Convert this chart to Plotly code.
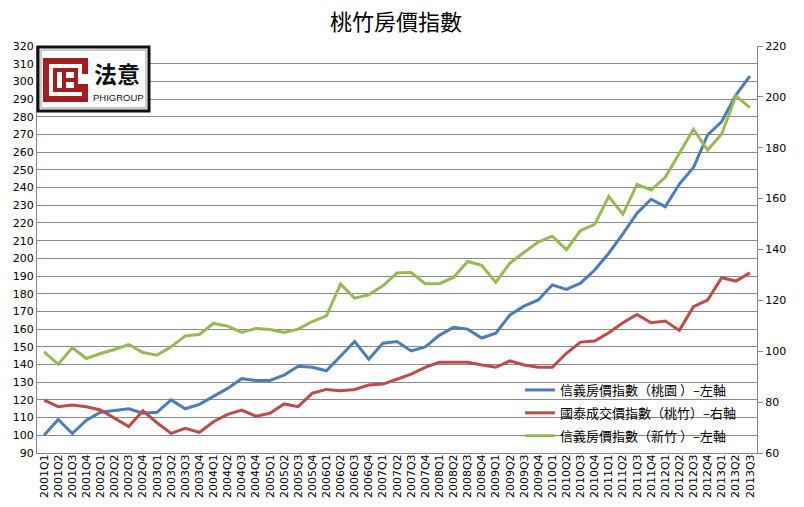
import plotly.graph_objects as go

quarters = [f"{y}Q{q}" for y in range(2001, 2014) for q in range(1, 5)][:51]

taoyuan_sinyi = [100, 109, 101, 108.5, 113, 114, 115, 112.5, 113, 120, 115, 117.5, 122, 126.5, 132, 131, 131, 134, 139, 138.5,
                 136.5, 145, 153, 143, 152, 153, 147.7, 150, 156.5, 161, 160, 155, 157.7, 168, 173, 176.5, 185, 182.5,
                 186, 193.4, 202.9, 213.8, 225.5, 233.4, 229.2, 242, 251.3, 269.7, 277.3, 292.3, 303]
cathay_taozhu = [80.8, 78.2, 78.9, 78.2, 76.9, 73.6, 70.4, 76.6, 71.9, 67.7, 69.7, 68.1, 72.3, 75.2, 76.9, 74.5, 75.6, 79.3,
                 78.2, 83.5, 85.0, 84.5, 85.0, 86.7, 87.1, 89.0, 91.0, 93.7, 95.7, 95.7, 95.7, 94.6, 93.7, 96.2, 94.6, 93.7, 93.7, 99.2,
                 103.6, 104, 107.3, 111.2, 114.5, 111.2, 111.9, 108.2, 117.5, 120.1, 128.9, 127.6, 130.8]
hsinchu_sinyi = [147.2, 140.2, 149.4, 143.4, 146.2, 148.5, 151.3, 146.8, 145.3, 150, 156.2, 157, 163.2, 161.7, 158.1, 160.4, 159.8, 158.1,
                 160, 164.3, 167.5, 185.4, 177.5, 179.4, 184.5, 191.7, 192, 185.7, 185.7, 189.2, 198.2, 196, 186.4, 197.4, 203.4, 209.2, 212.5, 204.9,
                 215.7, 219.2, 234.9, 224.9, 241.8, 238.6, 245.8, 259.7, 272.9, 261.2, 270.3, 291.8, 285.2]

title_text = "桃竹房價指數"
names = ["信義房價指數（桃園 ）–左軸", "國泰成交價指數（桃竹）–右軸", "信義房價指數（新竹 ）–左軸"]
colors = ["#4A7EBB", "#BE4B48", "#98B954"]

W, H = 804, 507
L, R, T, B = 37, 757, 46, 453

def px(x):
    return (x - L) / (R - L)

def py(y):
    return (B - y) / (B - T)

fig = go.Figure()
fig.add_trace(go.Scatter(x=quarters, y=taoyuan_sinyi, name=names[0], mode="lines",
                         line=dict(color=colors[0], width=3), legendgroup="a"))
fig.add_trace(go.Scatter(x=quarters, y=cathay_taozhu, name=names[1], mode="lines", yaxis="y2",
                         line=dict(color=colors[1], width=3), legendgroup="b"))
fig.add_trace(go.Scatter(x=quarters, y=hsinchu_sinyi, name=names[2], mode="lines",
                         line=dict(color=colors[2], width=3), legendgroup="c"))

tickfont = dict(family="DejaVu Sans", size=11, color="#000000")

shapes = []
# logo box
shapes.append(dict(type="rect", xref="paper", yref="paper", x0=px(38), x1=px(149), y0=py(111), y1=py(47),
                   line=dict(color="#111111", width=3), fillcolor="white", layer="above"))
shapes.append(dict(type="rect", xref="paper", yref="paper", x0=px(41), x1=px(146), y0=py(108), y1=py(50),
                   line=dict(color="#9a9a9a", width=1), fillcolor="white", layer="above"))
red = "#A21C20"
def rect(x0, y0, x1, y1, c):
    shapes.append(dict(type="rect", xref="paper", yref="paper", x0=px(x0), x1=px(x1), y0=py(y1), y1=py(y0),
                       line=dict(width=0), fillcolor=c, layer="above"))
rect(43, 58, 88, 102, red)
rect(49, 64, 82, 96, "white")
rect(82, 74, 88, 84, "white")
rect(53, 68, 78, 92, red)
rect(78, 84, 88, 92, red)
rect(57, 72, 62, 88, "white")
rect(66, 72, 74, 78, "white")
rect(66, 82, 74, 88, "white")

annotations = [
    dict(text=title_text, xref="paper", yref="paper", x=px(396), y=py(2), xanchor="center", yanchor="top",
         showarrow=False, font=dict(family="Noto Sans CJK TC", size=22, color="#000000")),
    dict(text="<b>法意</b>", xref="paper", yref="paper", x=px(117), y=py(73), xanchor="center", yanchor="middle",
         showarrow=False, font=dict(family="Noto Sans CJK TC", size=23, color="#111111")),
    dict(text="PHIGROUP", xref="paper", yref="paper", x=px(118), y=py(97), xanchor="center", yanchor="middle",
         showarrow=False, font=dict(family="Liberation Sans", size=9.5, color="#111111")),
]

fig.update_layout(
    width=W, height=H,
    paper_bgcolor="white", plot_bgcolor="white",
    margin=dict(l=L, r=W - R, t=T, b=H - B, autoexpand=False),
    showlegend=True,
    legend=dict(x=px(520), y=py(375), xanchor="left", yanchor="top", bgcolor="rgba(0,0,0,0)",
                font=dict(family="Noto Sans CJK TC", size=13, color="#000000"), tracegroupgap=3,
                itemwidth=30),
    xaxis=dict(type="category", range=[-0.5, 50.5], tickangle=-90,
               tickfont=dict(family="DejaVu Sans", size=11, color="#000000"), ticklabelstandoff=-4,
               showgrid=False, showline=True, linecolor="#868686", linewidth=1, ticks="", automargin=False),
    yaxis=dict(range=[90, 320], dtick=10, tick0=90, tickfont=tickfont, showgrid=True, gridcolor="#8A8A8A",
               gridwidth=1, showline=True, linecolor="#868686", linewidth=1, ticks="", zeroline=False,
               automargin=False),
    yaxis2=dict(range=[60, 220], dtick=20, tick0=60, overlaying="y", side="right", tickfont=tickfont,
                showgrid=False, showline=True, linecolor="#868686", linewidth=1, ticks="outside", ticklen=5,
                tickcolor="#868686", zeroline=False, automargin=False),
    shapes=shapes,
    annotations=annotations,
)

fig.write_html("out.html", config={"displayModeBar": False},
               post_script="document.body.style.margin='0';document.body.style.overflow='hidden';")
